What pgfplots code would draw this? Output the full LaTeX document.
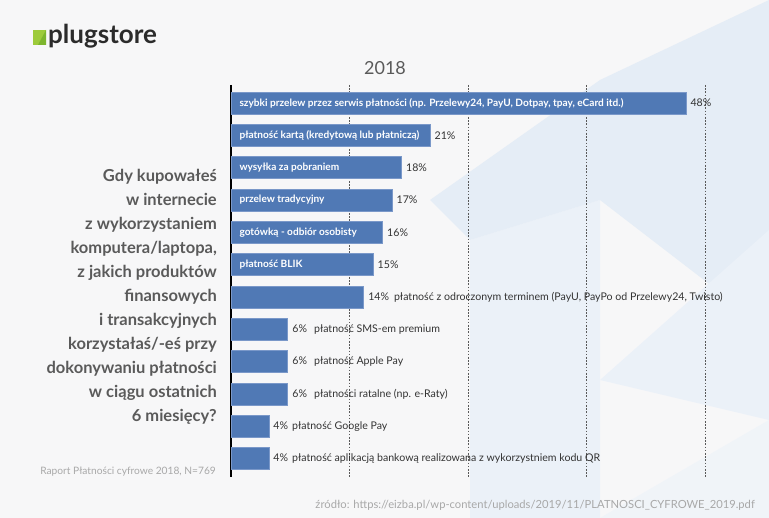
\documentclass[border=0pt]{standalone}
\usepackage{fontspec}
\setmainfont{Lato}
\usepackage{pgfplots}
\pgfplotsset{compat=1.18}
\definecolor{bgc}{HTML}{F7F7F8}
\definecolor{polyA}{HTML}{E5EDF6}
\definecolor{polyB}{HTML}{EBF1F8}
\definecolor{barc}{HTML}{5079B5}
\definecolor{bard}{HTML}{7A98C9}
\definecolor{qtext}{HTML}{5A5A5A}
\definecolor{vtext}{HTML}{333333}
\definecolor{ltext}{HTML}{A8A8A8}
\definecolor{logot}{HTML}{2B2B2B}
\definecolor{logog}{HTML}{9DCB3B}
\definecolor{logog2}{HTML}{7DB52E}
\newcommand{\lab}{\bfseries\fontsize{10.1}{12}\selectfont}
\newcommand{\val}{\fontsize{10.6}{12}\selectfont}
\begin{document}
\begin{tikzpicture}[x=1pt,y=1pt]
\fill[bgc] (0,0) rectangle (769,518);
% decorative background
\fill[polyA] (600,438) -- (769,518) -- (769,188) -- (600,318) -- cycle;
\fill[polyB] (470,278) -- (600,318) -- (600,0) -- (470,0) -- cycle;
\fill[polyA] (430,318) -- (600,438) -- (600,318) -- (470,278) -- cycle;
\fill[polyB] (600,138) -- (769,288) -- (769,98) -- cycle;
\fill[polyB!60!bgc] (600,0) -- (769,98) -- (769,0) -- cycle;
% logo
\fill[logog] (33,473) rectangle (46,488);
\fill[logog2] (46,473) -- (46,488) -- (38,473) -- cycle;
\node[anchor=base west, font=\bfseries\fontsize{26}{28}\selectfont, text=logot, inner sep=0] at (48,474) {plugstore};
% title
\node[font=\fontsize{18}{20}\selectfont, text=qtext] at (385,450) {2018};
% question
\node[anchor=east, align=right, font=\bfseries\fontsize{16.5}{24}\selectfont, text=qtext, inner sep=0] at (217,221) {Gdy kupowałeś\\w internecie\\z wykorzystaniem\\komputera/laptopa,\\z jakich produktów\\finansowych\\i transakcyjnych\\korzystałaś/-eś przy\\dokonywaniu płatności\\w ciągu ostatnich\\6 miesięcy?};
% footnotes
\node[anchor=east, font=\fontsize{10.2}{12}\selectfont, text=ltext, inner sep=0] at (216,46) {Raport Płatności cyfrowe 2018, N=769};
\node[anchor=east, font=\fontsize{11.2}{13}\selectfont, text=ltext, inner sep=0] at (755,13) {źródło: https://eizba.pl/wp-content/uploads/2019/11/PLATNOSCI\_CYFROWE\_2019.pdf};
\begin{axis}[
  at={(231pt,41pt)}, anchor=south west, scale only axis,
  width=474pt, height=392pt,
  xmin=0, xmax=50, ymin=-0.56, ymax=11.56, y dir=reverse,
  axis lines*=left,
  x axis line style={draw=none},
  y axis line style={black, line width=1.1pt},
  xtick={12.5,25,37.5,50}, xticklabels={}, ytick=\empty,
  major tick length=0pt,
  xmajorgrids, grid style={black!65, line width=0.8pt, dash pattern=on 1.6pt off 1.6pt},
  clip=false,
  xbar, bar width=22pt,
]
\addplot[fill=barc, draw=bard, line width=0.8pt] coordinates {
(48,0) (21,1) (18,2) (17,3) (16,4) (15,5) (14,6) (6,7) (6,8) (6,9) (4,10) (4,11)};
% labels inside bars
\node[anchor=west, text=white, font=\lab, xshift=5pt] at (axis cs:0,0) {szybki przelew przez serwis płatności (np. Przelewy24, PayU, Dotpay, tpay, eCard itd.)};
\node[anchor=west, text=white, font=\lab, xshift=5pt] at (axis cs:0,1) {płatność kartą (kredytową lub płatniczą)};
\node[anchor=west, text=white, font=\lab, xshift=5pt] at (axis cs:0,2) {wysyłka za pobraniem};
\node[anchor=west, text=white, font=\lab, xshift=5pt] at (axis cs:0,3) {przelew tradycyjny};
\node[anchor=west, text=white, font=\lab, xshift=5pt] at (axis cs:0,4) {gotówką - odbiór osobisty};
\node[anchor=west, text=white, font=\lab, xshift=5pt] at (axis cs:0,5) {płatność BLIK};
% values and outside labels
\node[anchor=west, text=vtext, font=\val, xshift=1pt] at (axis cs:48,0) {48\%};
\node[anchor=west, text=vtext, font=\val, xshift=1pt] at (axis cs:21,1) {21\%};
\node[anchor=west, text=vtext, font=\val, xshift=1pt] at (axis cs:18,2) {18\%};
\node[anchor=west, text=vtext, font=\val, xshift=1pt] at (axis cs:17,3) {17\%};
\node[anchor=west, text=vtext, font=\val, xshift=1pt] at (axis cs:16,4) {16\%};
\node[anchor=west, text=vtext, font=\val, xshift=1pt] at (axis cs:15,5) {15\%};
\node[anchor=west, text=vtext, font=\val, xshift=1pt] at (axis cs:14,6) {14\%\hspace{5pt}płatność z odroczonym terminem (PayU, PayPo od Przelewy24, Twisto)};
\node[anchor=west, text=vtext, font=\val, xshift=1pt] at (axis cs:6,7) {6\%\hspace{7pt}płatność SMS-em premium};
\node[anchor=west, text=vtext, font=\val, xshift=1pt] at (axis cs:6,8) {6\%\hspace{7pt}płatność Apple Pay};
\node[anchor=west, text=vtext, font=\val, xshift=1pt] at (axis cs:6,9) {6\%\hspace{7pt}płatności ratalne (np. e-Raty)};
\node[anchor=west, text=vtext, font=\val, xshift=1pt] at (axis cs:4,10) {4\%\hspace{4pt}płatność Google Pay};
\node[anchor=west, text=vtext, font=\val, xshift=1pt] at (axis cs:4,11) {4\%\hspace{4pt}płatność aplikacją bankową realizowana z wykorzystniem kodu QR};
\end{axis}
\end{tikzpicture}
\end{document}
